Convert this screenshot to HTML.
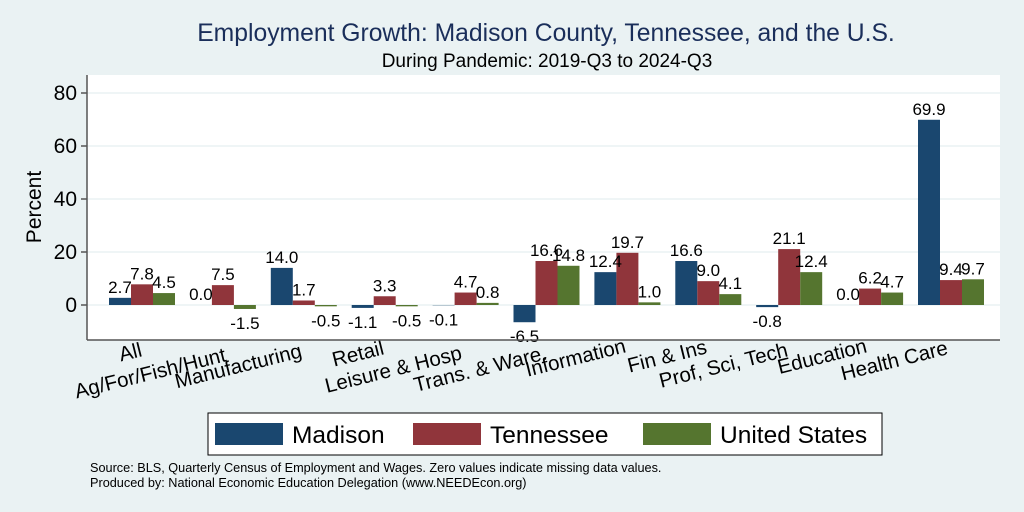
<!DOCTYPE html>
<html><head><meta charset="utf-8"><style>
body{margin:0;background:#eaf2f3;}
svg{display:block;font-family:"Liberation Sans",Arial,sans-serif;}
</style></head><body>
<svg id="c" width="1024" height="512">
<rect x="0" y="0" width="1024" height="512" fill="#eaf2f3"/>
<text x="546" y="41" font-size="24.7" fill="#1a2e5a" text-anchor="middle">Employment Growth: Madison County, Tennessee, and the U.S.</text>
<text x="547" y="67" font-size="19" fill="#000" text-anchor="middle">During Pandemic: 2019-Q3 to 2024-Q3</text>
<rect x="87" y="75" width="913" height="265" fill="#fff"/>
<g id="grid"></g><g id="bars"></g><g id="labels"></g>
<line x1="87" y1="75" x2="87" y2="340" stroke="#555" stroke-width="1.5"/>
<line x1="87" y1="340" x2="1000" y2="340" stroke="#555" stroke-width="1.5"/>
<text x="0" y="0" transform="translate(41,207) rotate(-90)" font-size="21" text-anchor="middle">Percent</text>
<g>
<rect x="208" y="413" width="674" height="42" fill="#fff" stroke="#000" stroke-width="1"/>
<rect x="215" y="423" width="68" height="22" fill="#1a476f"/>
<text x="292" y="443" font-size="24.5">Madison</text>
<rect x="413" y="423" width="68" height="22" fill="#90353b"/>
<text x="490" y="443" font-size="24.5">Tennessee</text>
<rect x="643" y="423" width="68" height="22" fill="#55752f"/>
<text x="720" y="443" font-size="24.5">United States</text>
</g>
<text x="90" y="472" font-size="12.7">Source: BLS, Quarterly Census of Employment and Wages. Zero values indicate missing data values.</text>
<text x="90" y="487" font-size="12.7">Produced by: National Economic Education Delegation (www.NEEDEcon.org)</text>
</svg>
<script>
const categories=["All","Ag/For/Fish/Hunt","Manufacturing","Retail","Leisure & Hosp","Trans. & Ware.","Information","Fin & Ins","Prof, Sci, Tech","Education","Health Care"];
const madison=[2.7,0.0,14.0,-1.1,-0.1,-6.5,12.4,16.6,-0.8,0.0,69.9];
const tennessee=[7.8,7.5,1.7,3.3,4.7,16.6,19.7,9.0,21.1,6.2,9.4];
const unitedStates=[4.5,-1.5,-0.5,-0.5,0.8,14.8,1.0,4.1,12.4,4.7,9.7];
const yTicks=[0,20,40,60,80];
const NS="http://www.w3.org/2000/svg";
const y=v=>305-v*(212/80);
const xc=i=>142+i*80.9;
const labelEndX=[143,227,303,385,463,548,627,708,789,868,949];
const labelEndY=[356,361,357,354,359,359,352,353,356,352,354];
function mk(tag,attrs,parent){const e=document.createElementNS(NS,tag);for(const k in attrs)e.setAttribute(k,attrs[k]);parent.appendChild(e);return e;}
const grid=document.getElementById('grid'),bars=document.getElementById('bars'),labels=document.getElementById('labels');
yTicks.forEach(t=>{
 const l=mk('line',{x1:87,x2:1000,y1:y(t),y2:y(t),stroke:'#eaf2f3','stroke-width':1.5},grid);
 
 
 const tk=mk('line',{x1:81,x2:87,y1:y(t),y2:y(t),stroke:'#555','stroke-width':1.5},grid);
 
 
 const tx=mk('text',{x:77,y:y(t)+7,'font-size':21,'text-anchor':'end'},grid);
 tx.textContent=t;
 
 
});
const series=[[madison,'#1a476f','madison',-1],[tennessee,'#90353b','tennessee',0],[unitedStates,'#55752f','us',1]];
categories.forEach((c,i)=>{
 series.forEach(([arr,col,nm,off])=>{
  const v=arr[i],x0=xc(i)+off*22-11;
  const top=Math.min(y(v),y(0)),h=Math.abs(y(v)-y(0));
  const r=mk('rect',{x:x0,y:top,width:22,height:h,fill:col},bars);
  
  
  const ly=v>=0?y(v)-5:y(v)+20;
  const t=mk('text',{x:x0+11,y:ly,'font-size':17,'text-anchor':'middle'},labels);
  t.textContent=v.toFixed(1);
  
  
 });
 const cx=labelEndX[i],cy=labelEndY[i];
 const t=mk('text',{x:cx,y:cy,'font-size':20.5,'text-anchor':'end',transform:`rotate(-14 ${cx} ${cy})`},labels);
 t.textContent=c;
 
 
});
</script>
</body></html>
